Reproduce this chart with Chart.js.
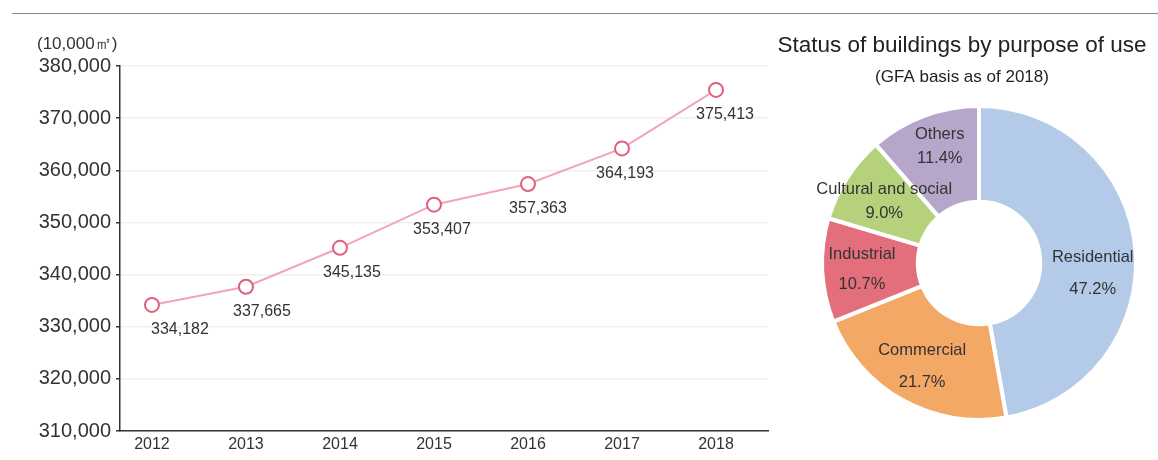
<!DOCTYPE html>
<html>
<head>
<meta charset="utf-8">
<script src="https://cdn.jsdelivr.net/npm/chart.js@4"></script>
<style>
  html, body { margin:0; padding:0; background:#fff; }
  body { width:1158px; height:460px; position:relative; overflow:hidden; font-family:"Liberation Sans", Arial, sans-serif; }
  #topline { position:absolute; left:12px; top:13px; width:1146px; height:0; border-top:1px solid #8a8a8a; }
  #lineWrap { position:absolute; left:0; top:0; width:800px; height:460px; }
  #donutWrap { position:absolute; left:766px; top:0; width:392px; height:460px; }
</style>
</head>
<body>
<div id="topline"></div>
<div id="lineWrap"><canvas id="lineChart" width="800" height="460"></canvas></div>
<div id="donutWrap"><canvas id="donutChart" width="392" height="460"></canvas></div>
<script>
// ---- Data ----
const years = ["2012", "2013", "2014", "2015", "2016", "2017", "2018"];
const floorArea = [334182, 337665, 345135, 353407, 357363, 364193, 375413];
const yTicks = [310000, 320000, 330000, 340000, 350000, 360000, 370000, 380000];
const unitLabel = "(10,000㎡)";

const useCategories = ["Residential", "Commercial", "Industrial", "Cultural and social", "Others"];
const useShares = [47.2, 21.7, 10.7, 9.0, 11.4];
const donutTitle = "Status of buildings by purpose of use";
const donutSubtitle = "(GFA basis as of 2018)";

const FONT = '"Liberation Sans", Arial, sans-serif';
const TEXT = '#333';

// ---- Line chart ----
const pointLabelPlugin = {
  id: 'pointLabels',
  afterDatasetsDraw(chart, args, opts) {
    const ctx = chart.ctx;
    const meta = chart.getDatasetMeta(0);
    ctx.save();
    ctx.font = '16px ' + FONT;
    ctx.fillStyle = TEXT;
    ctx.textAlign = 'center';
    ctx.textBaseline = 'middle';
    meta.data.forEach((pt, i) => {
      const dx = opts.dx[i];
      ctx.fillText(floorArea[i].toLocaleString('en-US'), pt.x + dx, pt.y + 25);
    });
    ctx.restore();
  },
  afterDraw(chart) {
    const ctx = chart.ctx;
    ctx.save();
    ctx.font = '17px ' + FONT;
    ctx.fillStyle = TEXT;
    ctx.textAlign = 'left';
    ctx.textBaseline = 'middle';
    ctx.fillText(unitLabel, 37, 44);
    ctx.restore();
  }
};

new Chart(document.getElementById('lineChart'), {
  type: 'line',
  data: {
    datasets: [{
      data: floorArea.map((v, i) => ({ x: i, y: v })),
      borderColor: '#f2a5b9',
      borderWidth: 2,
      pointRadius: 7,
      pointBorderWidth: 2,
      pointBackgroundColor: '#fff',
      pointBorderColor: '#e0607e',
      tension: 0
    }]
  },
  options: {
    responsive: false,
    animation: false,
    layout: { padding: { top: 66, right: 32, left: 0, bottom: 0 } },
    plugins: {
      legend: { display: false },
      tooltip: { enabled: false },
      pointLabels: { dx: [28, 16, 12, 8, 10, 3, 9] }
    },
    scales: {
      x: {
        type: 'linear',
        min: -0.34,
        max: 6.553,
        afterBuildTicks(scale) { scale.ticks = years.map((_, i) => ({ value: i })); },
        afterFit(scale) { scale.height = 29; },
        ticks: {
          callback: (v) => years[v],
          color: TEXT,
          font: { size: 16, family: FONT },
          padding: 4,
          maxRotation: 0,
          autoSkip: false
        },
        grid: { display: false, drawTicks: false },
        border: { display: true, color: '#333', width: 1.5 }
      },
      y: {
        min: 310000,
        max: 380000,
        afterBuildTicks(scale) { scale.ticks = yTicks.map(v => ({ value: v })); },
        afterFit(scale) { scale.width = 120; },
        ticks: {
          callback: (v) => v.toLocaleString('en-US'),
          color: TEXT,
          font: { size: 20, family: FONT },
          padding: 5
        },
        grid: { color: '#efefef', tickColor: '#333', tickLength: 4, lineWidth: 1.5 },
        border: { display: true, color: '#333', width: 1.5 }
      }
    }
  },
  plugins: [pointLabelPlugin]
});

// ---- Doughnut chart ----
const donutTextPlugin = {
  id: 'donutText',
  afterDraw(chart, args, opts) {
    const ctx = chart.ctx;
    ctx.save();
    ctx.fillStyle = '#222';
    ctx.textAlign = 'center';
    ctx.textBaseline = 'middle';
    ctx.font = '22.5px ' + FONT;
    ctx.fillText(donutTitle, chart.width / 2, 46);
    ctx.font = '17px ' + FONT;
    ctx.fillText(donutSubtitle, chart.width / 2, 77);

    ctx.fillStyle = TEXT;
    ctx.font = '16.5px ' + FONT;
    const meta = chart.getDatasetMeta(0);
    meta.data.forEach((arc, i) => {
      const p = arc.tooltipPosition();
      const off = opts.offsets[i];
      const gap = opts.gaps[i];
      const cx = p.x + off[0], cy = p.y + off[1];
      ctx.fillText(useCategories[i], cx, cy - gap / 2);
      ctx.fillText(useShares[i].toFixed(1) + '%', cx, cy + gap / 2);
    });
    ctx.restore();
  }
};

new Chart(document.getElementById('donutChart'), {
  type: 'doughnut',
  data: {
    labels: useCategories,
    datasets: [{
      data: useShares,
      backgroundColor: ['#b3cbe8', '#f3a866', '#e46f7c', '#b6d17b', '#b6a6ca'],
      borderColor: '#ffffff',
      borderWidth: 4
    }]
  },
  options: {
    responsive: false,
    animation: false,
    cutout: '39%',
    layout: { padding: { top: 104, left: 54, right: 20, bottom: 38 } },
    plugins: {
      legend: { display: false },
      tooltip: { enabled: false },
      donutText: {
        offsets: [[5, 20], [-4, 8], [-8, 1], [-3, -3], [-1, -14]],
        gaps: [32, 32, 30, 24, 24]
      }
    }
  },
  plugins: [donutTextPlugin]
});
</script>
</body>
</html>
